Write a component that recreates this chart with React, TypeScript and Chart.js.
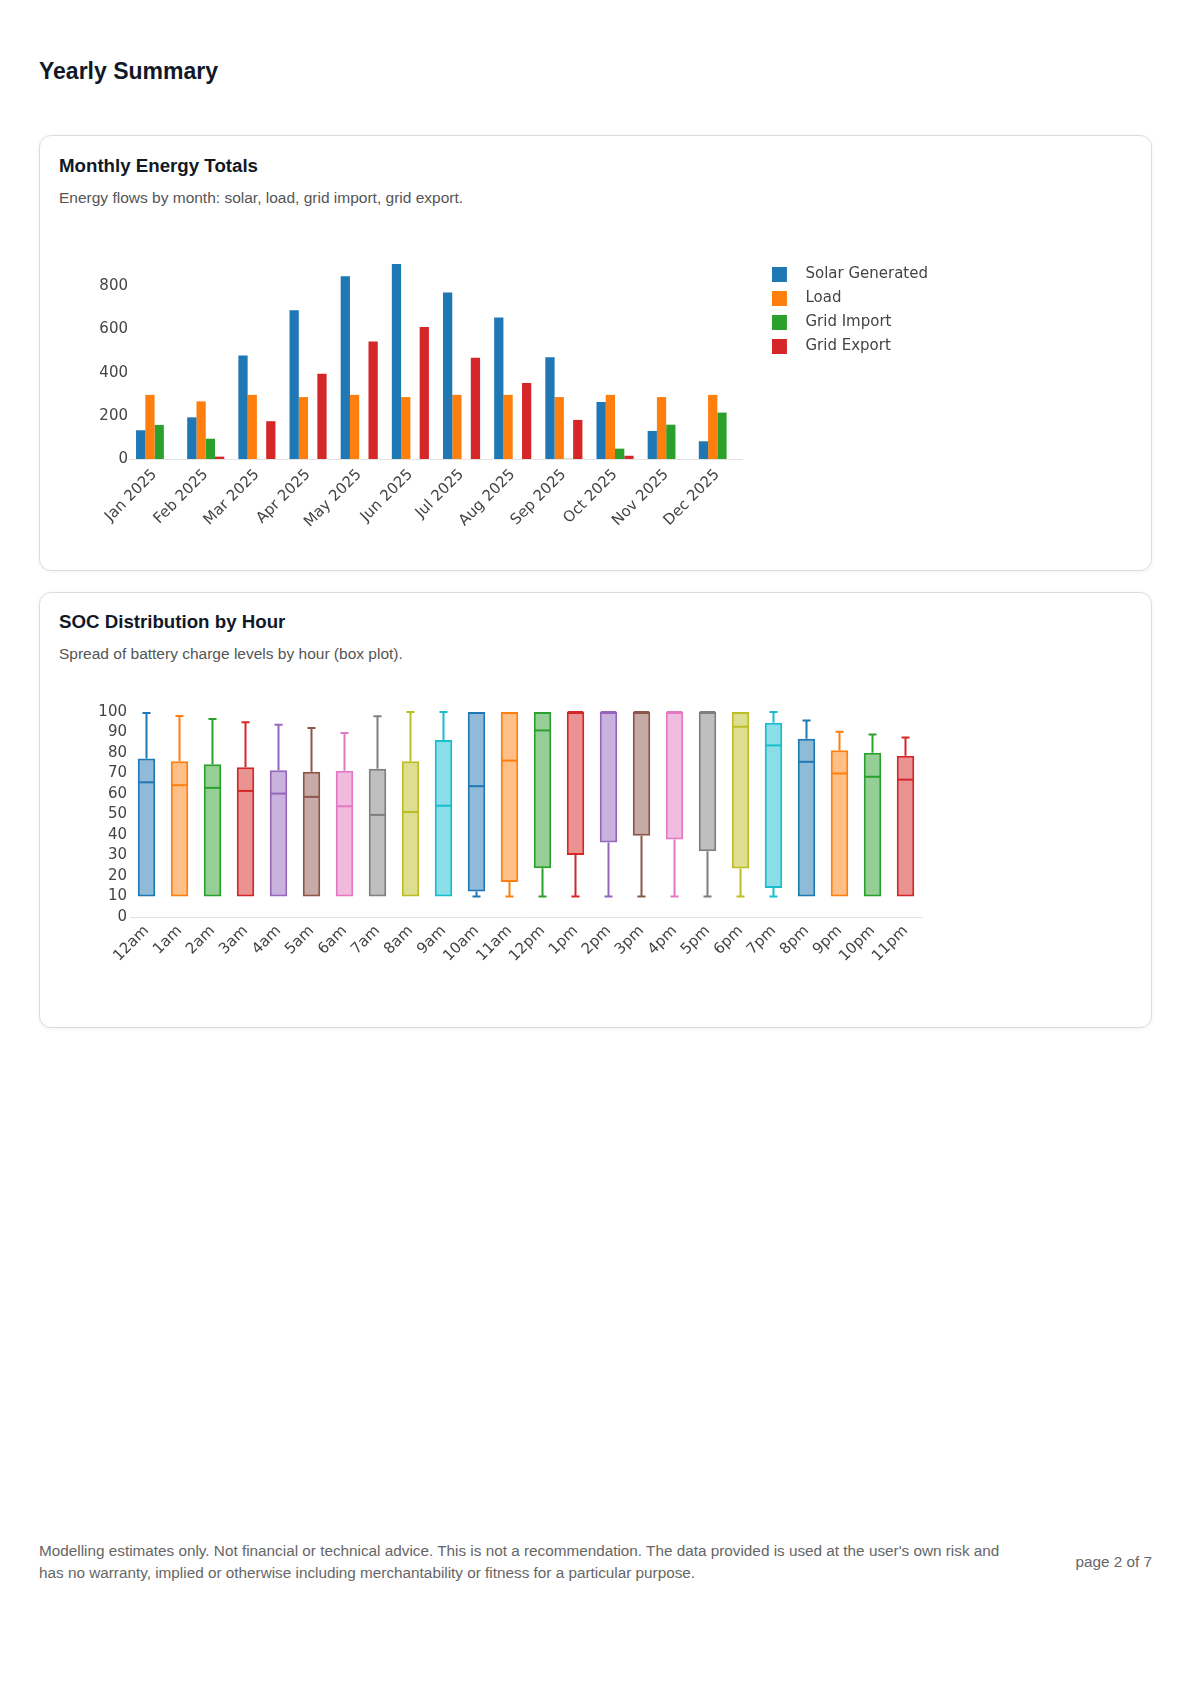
import React, { useEffect, useRef } from "react";
import { Chart, registerables } from "chart.js";

Chart.register(...registerables);

// ---------- Monthly Energy Totals ----------
const months = [
  "Jan 2025", "Feb 2025", "Mar 2025", "Apr 2025", "May 2025", "Jun 2025",
  "Jul 2025", "Aug 2025", "Sep 2025", "Oct 2025", "Nov 2025", "Dec 2025",
];
const solarGenerated = [133, 193, 480, 689, 846, 903, 771, 655, 471, 264, 130, 82];
const loadValues = [297, 267, 297, 287, 297, 287, 297, 297, 287, 297, 287, 297];
const gridImport = [158, 94, 0, 0, 0, 0, 0, 0, 1, 48, 159, 215];
const gridExport = [0, 11, 175, 395, 544, 612, 469, 352, 181, 15, 0, 0];
const energyTicks = [0, 200, 400, 600, 800];
const energyMax = 945;

// ---------- SOC Distribution by Hour ----------
const hours = [
  "12am", "1am", "2am", "3am", "4am", "5am", "6am", "7am", "8am", "9am", "10am", "11am",
  "12pm", "1pm", "2pm", "3pm", "4pm", "5pm", "6pm", "7pm", "8pm", "9pm", "10pm", "11pm",
];
const socMin = [10, 10, 10, 10, 10, 10, 10, 10, 10, 10, 10, 10, 10, 10, 10, 10, 10, 10, 10, 10, 10, 10, 10, 10];
const socQ1 = [10, 10, 10, 10, 10, 10, 10, 10, 10, 10, 12.4, 17.1, 23.8, 30.2, 36.4, 39.6, 37.8, 32.1, 23.7, 14.2, 10, 10, 10, 10];
const socMedian = [65.7, 64.3, 63, 61.5, 60.2, 58.6, 54, 49.8, 51.2, 54.3, 63.8, 76.3, 91, 100, 100, 100, 100, 100, 92.8, 83.7, 75.7, 70, 68.4, 67];
const socQ3 = [77.3, 76, 74.5, 73, 71.6, 70.8, 71.3, 72.3, 76, 86.3, 100, 100, 100, 100, 100, 100, 100, 100, 100, 94.8, 87, 81.4, 80.1, 78.6];
const socMax = [99.5, 98, 96.6, 95, 93.8, 92.2, 89.7, 97.9, 100, 100, 100, 100, 100, 100, 100, 100, 100, 100, 100, 100, 95.8, 90.4, 89, 87.6];
const socTicks = [0, 10, 20, 30, 40, 50, 60, 70, 80, 90, 100];

const palette = ["#1f77b4", "#ff7f0e", "#2ca02c", "#d62728", "#9467bd", "#8c564b", "#e377c2", "#7f7f7f", "#bcbd22", "#17becf"];

function hexToRgba(hex: string, a: number) {
  const n = parseInt(hex.slice(1), 16);
  return `rgba(${(n >> 16) & 255}, ${(n >> 8) & 255}, ${n & 255}, ${a})`;
}

// legend swatch: a 15x15 square inside a wider transparent slot so the label sits further right
const SWATCH_SLOT = 26;
const SWATCH_SIZE = 15;
function legendSwatch(color: string): HTMLCanvasElement {
  const c = document.createElement("canvas");
  c.width = SWATCH_SLOT;
  c.height = SWATCH_SIZE;
  const g = c.getContext("2d");
  if (g) {
    g.fillStyle = color;
    g.fillRect(0, 0, SWATCH_SIZE, SWATCH_SIZE);
  }
  return c;
}

const tickFont = { family: "'DejaVu Sans', Verdana, sans-serif", size: 15 };
const tickColor = "#444";
const axisLineColor = "#e3e3e3";

const boxWhiskerPlugin = {
  id: "boxWhiskers",
  afterDatasetsDraw(chart: any) {
    const meta = chart.getDatasetMeta(0);
    const yScale = chart.scales.y;
    const ctx = chart.ctx;
    ctx.save();
    ctx.lineWidth = 2;
    ctx.lineCap = "butt";
    meta.data.forEach((bar: any, i: number) => {
      const { x, width } = bar.getProps(["x", "width"], true);
      const color = palette[i % palette.length];
      ctx.strokeStyle = color;
      const half = width / 2;
      const cap = width * 0.23;
      const yQ1 = yScale.getPixelForValue(socQ1[i]);
      const yQ3 = yScale.getPixelForValue(socQ3[i]);
      const yMed = yScale.getPixelForValue(socMedian[i]);
      const yMax = yScale.getPixelForValue(socMax[i]);
      const yMin = yScale.getPixelForValue(socMin[i]);
      // median
      ctx.beginPath();
      ctx.moveTo(x - half + 1, yMed);
      ctx.lineTo(x + half - 1, yMed);
      ctx.stroke();
      // upper whisker
      if (socMax[i] > socQ3[i]) {
        ctx.beginPath();
        ctx.moveTo(x, yQ3);
        ctx.lineTo(x, yMax);
        ctx.moveTo(x - cap, yMax);
        ctx.lineTo(x + cap, yMax);
        ctx.stroke();
      }
      // lower whisker
      if (socMin[i] < socQ1[i]) {
        ctx.beginPath();
        ctx.moveTo(x, yQ1);
        ctx.lineTo(x, yMin);
        ctx.moveTo(x - cap, yMin);
        ctx.lineTo(x + cap, yMin);
        ctx.stroke();
      }
    });
    ctx.restore();
  },
};

function energyConfig(): any {
  const ds = (label: string, data: number[], color: string) => ({
    label,
    data,
    backgroundColor: color,
    borderWidth: 0,
    barPercentage: 1,
    categoryPercentage: 0.725,
    pointStyle: legendSwatch(color),
  });
  return {
    type: "bar",
    data: {
      labels: months,
      datasets: [
        ds("Solar Generated", solarGenerated, palette[0]),
        ds("Load", loadValues, palette[1]),
        ds("Grid Import", gridImport, palette[2]),
        ds("Grid Export", gridExport, palette[3]),
      ],
    },
    options: {
      animation: false,
      responsive: false,
      layout: { padding: { left: 30, top: 10, bottom: 6, right: 0 } },
      plugins: {
        tooltip: { enabled: false },
        legend: {
          position: "right",
          align: "start",
          maxWidth: 240,
          title: { display: true, text: "", font: { size: 2.5 }, padding: 0 },
          labels: {
            usePointStyle: true,
            pointStyleWidth: SWATCH_SLOT,
            boxWidth: SWATCH_SIZE,
            boxHeight: SWATCH_SIZE,
            padding: 9,
            color: tickColor,
            font: tickFont,
          },
        },
      },
      scales: {
        x: {
          grid: { display: false, drawTicks: false },
          border: { display: true, color: axisLineColor, width: 1 },
          ticks: {
            autoSkip: false,
            minRotation: 45,
            maxRotation: 45,
            color: tickColor,
            font: tickFont,
            padding: 7,
          },
          afterFit: (s: any) => {
            s.height = 80;
          },
        },
        y: {
          min: 0,
          max: energyMax,
          grid: { display: false, drawTicks: false },
          border: { display: false },
          ticks: { color: tickColor, font: tickFont, padding: 1, autoSkip: false },
          afterBuildTicks: (s: any) => {
            s.ticks = energyTicks.map((v) => ({ value: v }));
          },
          afterFit: (s: any) => {
            s.width = 40;
          },
        },
        gap: {
          type: "linear",
          position: "right",
          grid: { display: false, drawTicks: false },
          border: { display: false },
          ticks: { display: false },
          afterFit: (s: any) => {
            s.width = 20;
          },
        },
      },
    },
  };
}

function socConfig(): any {
  return {
    type: "bar",
    data: {
      labels: hours,
      datasets: [
        {
          label: "SOC",
          data: socQ1.map((q, i) => [q, socQ3[i]]),
          backgroundColor: hours.map((_, i) => hexToRgba(palette[i % palette.length], 0.5)),
          borderColor: hours.map((_, i) => palette[i % palette.length]),
          borderWidth: 2,
          borderSkipped: false,
          barPercentage: 0.53,
          categoryPercentage: 1,
        },
      ],
    },
    plugins: [boxWhiskerPlugin],
    options: {
      animation: false,
      responsive: false,
      layout: { padding: { left: 30, top: 14, bottom: 4, right: 10 } },
      plugins: {
        tooltip: { enabled: false },
        legend: { display: false },
      },
      scales: {
        x: {
          grid: { display: false, drawTicks: false },
          border: { display: true, color: axisLineColor, width: 1 },
          ticks: {
            autoSkip: false,
            minRotation: 45,
            maxRotation: 45,
            color: tickColor,
            font: tickFont,
            padding: 5,
          },
          afterFit: (s: any) => {
            s.height = 60;
          },
        },
        y: {
          min: 0,
          max: 100,
          grid: { display: false, drawTicks: false },
          border: { display: false },
          ticks: { color: tickColor, font: tickFont, padding: 3, autoSkip: false },
          afterBuildTicks: (s: any) => {
            s.ticks = socTicks.map((v) => ({ value: v }));
          },
          afterFit: (s: any) => {
            s.width = 41;
          },
        },
      },
    },
  };
}

function ChartCanvas(props: { make: () => any; width: number; height: number; left: number; top: number }) {
  const ref = useRef<HTMLCanvasElement | null>(null);
  useEffect(() => {
    if (!ref.current) return;
    const chart = new Chart(ref.current, props.make());
    return () => chart.destroy();
  }, []);
  return (
    <canvas
      ref={ref}
      width={props.width}
      height={props.height}
      style={{ position: "absolute", left: props.left, top: props.top, width: props.width, height: props.height }}
    />
  );
}

const sans = "'Liberation Sans', Arial, Helvetica, sans-serif";

const cardStyle: React.CSSProperties = {
  position: "absolute",
  left: 31,
  width: 1113,
  height: 436,
  boxSizing: "border-box",
  border: "1px solid #dcdcdc",
  borderRadius: 12,
  background: "#fff",
  boxShadow: "0 1px 4px rgba(0,0,0,0.06)",
};

const cardTitle: React.CSSProperties = {
  position: "absolute",
  left: 19,
  top: 19,
  margin: 0,
  fontFamily: sans,
  fontWeight: 700,
  fontSize: 18.7,
  lineHeight: "22px",
  color: "#111827",
  whiteSpace: "nowrap",
};

const cardSub: React.CSSProperties = {
  position: "absolute",
  left: 19,
  top: 53,
  margin: 0,
  fontFamily: sans,
  fontSize: 15.5,
  lineHeight: "18px",
  color: "#555",
  whiteSpace: "nowrap",
};

export default function App() {
  return (
    <div style={{ position: "relative", width: 1174, height: 1660, fontFamily: sans }}>
      <div
        style={{
          position: "absolute",
          left: 31,
          top: 49,
          fontSize: 23,
          fontWeight: 700,
          lineHeight: "28px",
          color: "#111827",
        }}
      >
        Yearly Summary
      </div>

      <div style={{ ...cardStyle, top: 127 }}>
        <div style={cardTitle}>Monthly Energy Totals</div>
        <div style={cardSub}>Energy flows by month: solar, load, grid import, grid export.</div>
        <ChartCanvas make={energyConfig} width={879} height={300} left={19} top={109} />
      </div>

      <div style={{ ...cardStyle, top: 584 }}>
        <div style={{ ...cardTitle, top: 18 }}>SOC Distribution by Hour</div>
        <div style={{ ...cardSub, top: 52 }}>Spread of battery charge levels by hour (box plot).</div>
        <ChartCanvas make={socConfig} width={873} height={283} left={19} top={105} />
      </div>

      <div
        style={{
          position: "absolute",
          left: 31,
          top: 1532,
          width: 1113,
          display: "flex",
          alignItems: "center",
          justifyContent: "space-between",
          color: "#666",
          fontSize: 15.3,
          lineHeight: "22px",
        }}
      >
        <div style={{ width: 975 }}>
          Modelling estimates only. Not financial or technical advice. This is not a recommendation. The data provided is used at the user's own risk and has no warranty, implied or otherwise including merchantability or fitness for a particular purpose.
        </div>
        <div style={{ whiteSpace: "nowrap" }}>page 2 of 7</div>
      </div>
    </div>
  );
}
